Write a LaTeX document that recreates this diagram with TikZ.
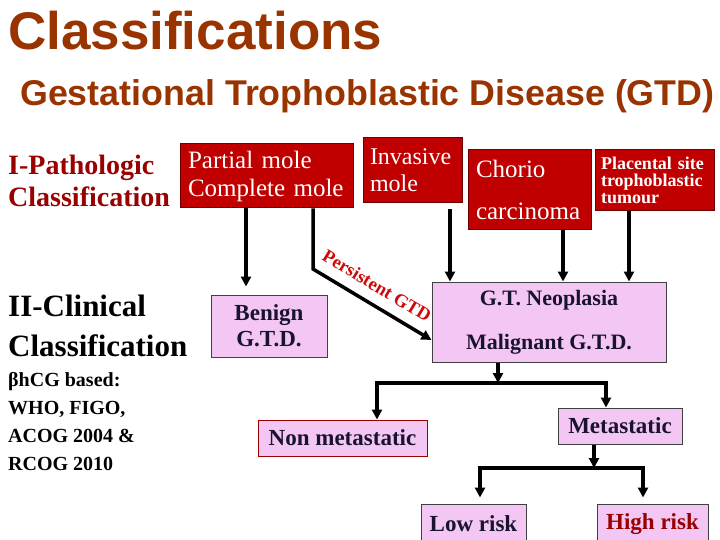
\documentclass[tikz,border=0pt]{standalone}
\usepackage{fontspec}
\setmainfont{Liberation Serif}
\newfontfamily\arialfont{Liberation Sans}
\usepackage{tikz}
\usepackage{xcolor}
\usetikzlibrary{arrows.meta, positioning}
\definecolor{titlebrown}{RGB}{153, 51, 0}
\definecolor{pathred}{RGB}{153, 0, 0}
\definecolor{boxred}{RGB}{192, 0, 0}
\definecolor{boxedge}{RGB}{110, 0, 0}
\definecolor{boxpink}{RGB}{244, 198, 244}
\definecolor{inkblue}{RGB}{25, 20, 45}
\definecolor{labelred}{RGB}{205, 10, 10}
\newcommand{\fsz}[2]{\fontsize{#1}{#2}\selectfont}

\begin{document}
\begin{tikzpicture}[x=1pt,y=-1pt,
          redbox/.style={draw=boxedge,fill=boxred,text=white,align=left,
                         inner ysep=0pt,line width=1pt},
          pinkbox/.style={draw=black!75,fill=boxpink,text=inkblue,align=center,
                          inner sep=0pt,line width=1pt,font=\fsz{23}{26}\bfseries},
          plain/.style={anchor=base west,inner sep=0pt,align=left},
          arr/.style={-{Triangle[width=10pt,length=10pt]},line width=3.5pt},
          bar/.style={line width=3.5pt,line cap=rect}]
        \useasboundingbox (0,0) rectangle (720,540);
        \node[plain,text=titlebrown,font=\arialfont\bfseries\fsz{53}{60}](title) at (8,50)
          {Classifications};
        \node[plain,text=titlebrown,font=\arialfont\bfseries\fsz{35.8}{42}](sub) at (20,106)
          {Gestational Trophoblastic Disease (GTD)};
        \node[plain,text=pathred,font=\bfseries\fsz{28}{32}](patho) at (8,207)
          {I-Pathologic\\Classification};
        \node[plain,font=\bfseries\fsz{31}{40}](clin) at (8,356)
          {II-Clinical\\Classification};
        \node[plain,font=\bfseries\fsz{20}{28}](hcg) at (8,470)
          {βhCG based:\\WHO, FIGO,\\ACOG 2004 \&\\RCOG 2010};
        \node[redbox,text width=157pt,inner xsep=8pt,minimum height=64pt,
              font=\fsz{25}{28}](mole) at (266.5,176)
          {Partial mole\\Complete mole};
        \node[redbox,text width=85pt,inner xsep=7pt,minimum height=65pt,
              font=\fsz{24}{27}](inv) at (412.5,170.5)
          {Invasive\\mole};
        \node[redbox,text width=107pt,inner xsep=8pt,minimum height=80pt,
              font=\fsz{25}{42}](chorio) at (529.5,190)
          {Chorio\\carcinoma};
        \node[redbox,text width=107pt,inner xsep=6pt,minimum height=61pt,
              font=\bfseries\fsz{18}{17}](pstt) at (654.5,180.5)
          {Placental site\\trophoblastic\\tumour};
        \node[pinkbox,minimum width=116pt,minimum height=62pt](benign) at (269,326)
          {Benign\\G.T.D.};
        \node[pinkbox,minimum width=234pt,minimum height=80pt,
              font=\fsz{22}{44}\bfseries](mal) at (549,322)
          {G.T. Neoplasia\\Malignant G.T.D.};
        \node[pinkbox,draw=pathred,minimum width=169pt,minimum height=36pt](nonmet) at (342.5,438)
          {Non metastatic};
        \node[pinkbox,minimum width=124pt,minimum height=36pt](met) at (620,426)
          {Metastatic};
        \node[pinkbox,minimum width=105pt,minimum height=40pt](low) at (473.5,524)
          {Low risk};
        \node[pinkbox,text=pathred,minimum width=111pt,minimum height=40pt](high) at (652.5,524)
          {High risk};
        \coordinate (bend) at (313,269);
        \coordinate (split1) at (498,383);
        \coordinate (s1l) at (377,383);
        \coordinate (s1r) at (606,383);
        \coordinate (split2) at (594,468);
        \coordinate (s2l) at (480,468);
        \coordinate (s2r) at (643,468);
        \draw[arr]([xshift=-20.5pt]mole.south)--([xshift=-23pt,yshift=8pt]benign.north);
        \draw[arr]([xshift=46.5pt]mole.south)--(bend)--([yshift=-18pt]mal.west)
          node[pos=0.46,sloped,above=7pt,text=labelred,font=\bfseries\fsz{18.5}{20}]{Persistent GTD};
        \draw[arr]([xshift=37.5pt,yshift=-6pt]inv.south)--([xshift=-99pt]mal.north);
        \draw[arr]([xshift=33.5pt]chorio.south)--([xshift=14pt]mal.north);
        \draw[arr]([xshift=-25.5pt]pstt.south)--([xshift=80pt]mal.north);
        \draw[arr]([xshift=-51pt]mal.south)--(split1);
        \draw[bar](s1l)--(s1r);
        \draw[arr](s1l)--([xshift=34.5pt]nonmet.north);
        \draw[arr](s1r)--([xshift=-14pt]met.north);
        \draw[arr]([xshift=-26pt]met.south)--(split2);
        \draw[bar](s2l)--(s2r);
        \draw[arr](s2l)--([xshift=6.5pt,yshift=6pt]low.north);
        \draw[arr](s2r)--([xshift=-9.5pt,yshift=6pt]high.north);
      \end{tikzpicture}
\end{document}
